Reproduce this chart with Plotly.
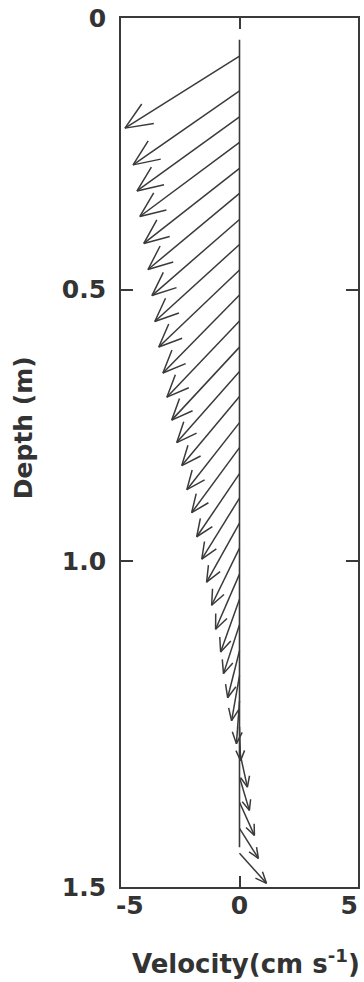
import numpy as np
import plotly.graph_objects as go

# ---- data ----
depth = [0.070, 0.134, 0.182, 0.229, 0.277, 0.323, 0.371, 0.417, 0.464, 0.510,
         0.558, 0.606, 0.651, 0.697, 0.745, 0.791, 0.839, 0.884, 0.930, 0.976,
         1.024, 1.070, 1.117, 1.165, 1.211, 1.257, 1.305, 1.350, 1.398, 1.444,
         1.492, 1.538]
u = [-5.22, -4.85, -4.67, -4.54, -4.36, -4.17, -3.99, -3.86, -3.68, -3.49,
     -3.31, -3.09, -2.86, -2.63, -2.40, -2.18, -1.95, -1.72, -1.50, -1.27,
     -1.09, -0.86, -0.73, -0.54, -0.36, -0.14, 0.05, 0.36, 0.45, 0.68,
     0.86, 1.23]
v = [3.27, 3.36, 3.36, 3.36, 3.40, 3.45, 3.45, 3.49, 3.49, 3.54,
     3.45, 3.31, 3.22, 3.13, 3.04, 2.95, 2.86, 2.77, 2.68, 2.59,
     2.50, 2.40, 2.22, 2.13, 2.04, 1.95, 1.54, 1.63, 1.50, 1.50,
     1.36, 1.36]
ref_line_depth = [0.04, 1.527]

x_tick_vals = [-5, 0, 5]
x_tick_text = ["-5", "0", "5"]
y_tick_vals = [0, 0.5, 1.0, 1.6]
y_tick_text = ["0", "0.5", "1.0", "1.5"]

# ---- layout geometry ----
W, H = 364, 982
M = dict(l=121, r=4, t=15, b=95)
xr = [-5.4, 5.4]
yr = [1.6, 0]
pw = W - M["l"] - M["r"]
ph = H - M["t"] - M["b"]
sx = pw / (xr[1] - xr[0])      # px per cm/s
sy = ph / abs(yr[0] - yr[1])   # px per m
k = sx / sy                    # m of page per cm/s (isotropic arrows)

col = "#3a3a3a"
shaft_x, shaft_y, head_x, head_y = [], [], [], []
for z, uu, vv in zip(depth, u, v):
    x1, y1 = uu, z + vv * k
    shaft_x += [0, x1, None]
    shaft_y += [z, y1, None]
    L = np.hypot(uu * sx, vv * sx)
    h = 0.18 * L + 5
    ang = np.arctan2(vv, uu)
    pts = []
    for s in (1, -1):
        a = ang + np.pi + s * np.radians(23)
        pts.append((x1 + h * np.cos(a) / sx, y1 + h * np.sin(a) / sy))
    head_x += [pts[0][0], x1, pts[1][0], None]
    head_y += [pts[0][1], y1, pts[1][1], None]

fig = go.Figure()
fig.add_trace(go.Scatter(x=[0, 0], y=ref_line_depth, mode="lines",
                         line=dict(color=col, width=1.6), hoverinfo="skip"))
fig.add_trace(go.Scatter(x=shaft_x, y=shaft_y, mode="lines",
                         line=dict(color=col, width=1.5), hoverinfo="skip"))
fig.add_trace(go.Scatter(x=head_x, y=head_y, mode="lines",
                         line=dict(color=col, width=1.5), hoverinfo="skip"))
fig.add_trace(go.Scatter(x=[0], y=[0.8], xaxis="x2", mode="markers",
                         marker=dict(opacity=0), hoverinfo="skip"))

tfont = dict(family="DejaVu Sans", size=25, color="#333", weight="bold")
fig.update_layout(
    width=W, height=H, margin=M, showlegend=False,
    paper_bgcolor="white", plot_bgcolor="white",
    xaxis=dict(range=xr, tickvals=x_tick_vals, ticktext=x_tick_text,
               ticks="", showgrid=False, zeroline=False,
               showline=True, linecolor=col, linewidth=1.8, mirror=True,
               tickfont=tfont, ticklabelstandoff=-5),
    xaxis2=dict(range=xr, overlaying="x", side="bottom", anchor="y",
                tickvals=[0], ticks="inside", ticklen=11, tickwidth=1.5,
                tickcolor=col, mirror="ticks", showticklabels=False,
                showgrid=False, zeroline=False, showline=False),
    yaxis=dict(range=yr, tickvals=y_tick_vals, ticktext=y_tick_text,
               ticks="inside", ticklen=12, tickwidth=1.5, tickcolor=col,
               showgrid=False, zeroline=False,
               showline=True, linecolor=col, linewidth=1.8, mirror="ticks",
               tickfont=tfont, ticklabelstandoff=8),
    annotations=[
        dict(text="Velocity(cm s<sup>-1</sup>)", xref="paper", yref="paper",
             x=0.527, y=-0.086, xanchor="center", yanchor="middle",
             showarrow=False,
             font=dict(family="DejaVu Sans", size=26, color="#333", weight="bold")),
        dict(text="Depth (m)", xref="paper", yref="paper", textangle=-90,
             x=-0.414, y=0.529, xanchor="center", yanchor="middle",
             showarrow=False,
             font=dict(family="DejaVu Sans", size=25, color="#333", weight="bold")),
    ],
)

fig.write_html("out.html", config={"displayModeBar": False},
               post_script="document.body.style.margin='0px';document.body.style.overflow='hidden';")
